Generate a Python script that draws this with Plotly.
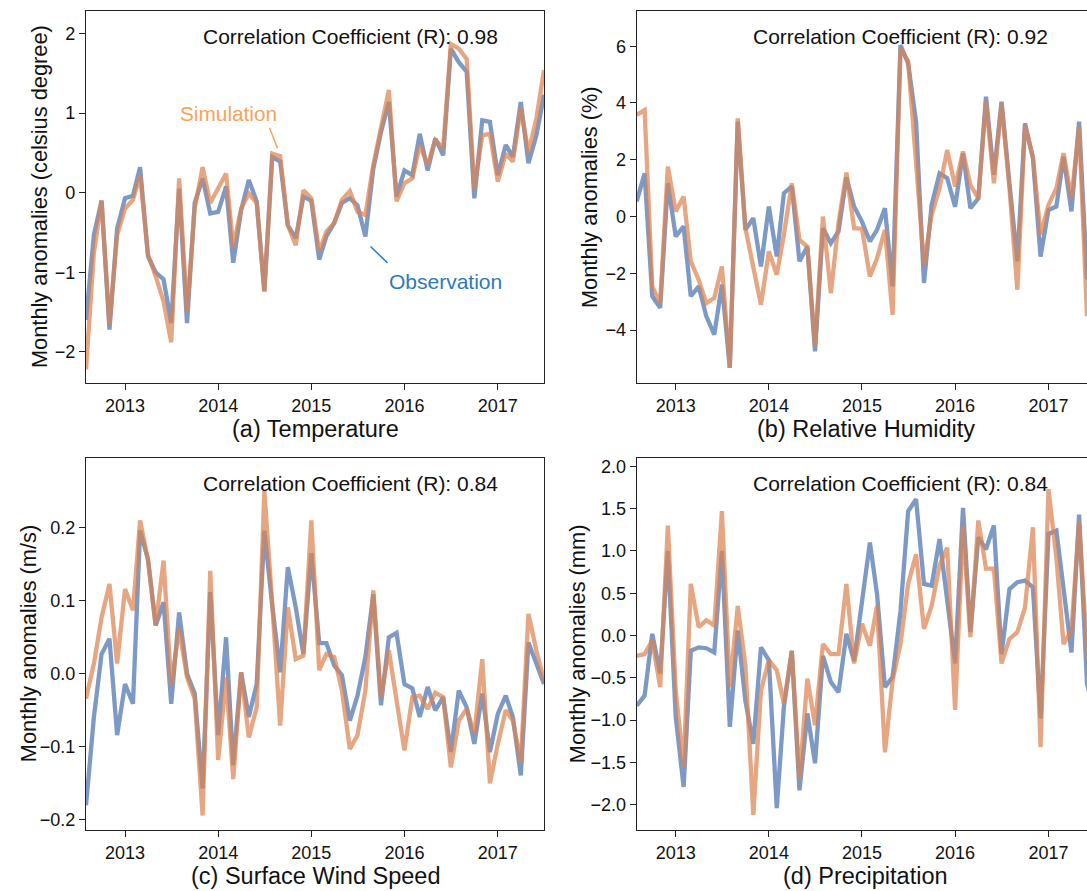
import pandas as pd
import plotly.graph_objects as go

W, H = 1087, 891

months = pd.date_range("2012-08-01", periods=60, freq="MS")
year_ticks = ["2013-01-01", "2014-01-01", "2015-01-01", "2016-01-01", "2017-01-01"]
year_labels = ["2013", "2014", "2015", "2016", "2017"]

temp_obs = [-1.6, -0.53, -0.10, -1.72, -0.45, -0.07, -0.04, 0.32, -0.80, -1.0,
            -1.09, -1.64, 0.05, -1.64, -0.13, 0.18, -0.26, -0.24, 0.08, -0.88,
            -0.22, 0.16, -0.11, -1.24, 0.45, 0.39, -0.41, -0.57, -0.05, -0.10,
            -0.84, -0.55, -0.38, -0.13, -0.07, -0.16, -0.55, 0.30, 0.76, 1.14,
            -0.05, 0.28, 0.22, 0.74, 0.28, 0.68, 0.47, 1.81, 1.64, 1.52,
            -0.07, 0.91, 0.89, 0.22, 0.60, 0.45, 1.14, 0.37, 0.72, 1.23]
temp_sim = [-2.22, -0.75, -0.10, -1.66, -0.53, -0.20, -0.09, 0.22, -0.78, -1.05,
            -1.37, -1.88, 0.18, -1.49, -0.20, 0.32, -0.13, 0.05, 0.24, -0.68,
            -0.20, -0.01, -0.13, -1.24, 0.49, 0.46, -0.41, -0.66, 0.03, -0.07,
            -0.74, -0.49, -0.38, -0.09, 0.02, -0.24, -0.28, 0.35, 0.83, 1.29,
            -0.11, 0.12, 0.18, 0.60, 0.35, 0.66, 0.56, 1.87, 1.81, 1.68,
            0.05, 0.72, 0.74, 0.14, 0.49, 0.39, 1.06, 0.51, 0.93, 1.54]

rh_obs = [0.53, 1.52, -2.81, -3.22, 1.17, -0.70, -0.35, -2.81, -2.46, -3.52,
          -4.16, -2.40, -5.33, 3.34, -0.47, -0.06, -1.76, 0.35, -1.41, 0.82,
          1.06, -1.58, -1.06, -4.75, -0.41, -0.94, -0.53, 1.38, 0.35, -0.18,
          -0.88, -0.47, 0.29, -2.46, 6.04, 5.39, 3.34, -2.34, 0.41, 1.52,
          1.35, 0.35, 2.23, 0.29, 0.64, 4.22, 1.47, 4.04, 1.17, -1.58,
          3.28, 2.05, -1.41, 0.23, 0.35, 2.11, 0.18, 3.34, -2.2, -1.8]
rh_sim = [3.58, 3.75, -2.46, -3.05, 1.76, 0.18, 0.70, -1.58, -2.23, -3.05,
          -2.87, -1.76, -5.33, 3.46, -0.41, -1.70, -3.11, -1.23, -2.05, -0.64,
          1.17, -0.82, -1.06, -4.57, 0.0, -2.70, -0.23, 1.55, -0.41, -0.43,
          -2.11, -1.47, -0.47, -3.46, 5.92, 5.47, 2.0, -1.70, 0.06, 1.0,
          2.34, 1.06, 2.29, 1.11, 0.64, 4.04, 1.17, 3.99, 1.0, -2.58,
          3.22, 2.11, -0.64, 0.41, 1.0, 2.23, 0.64, 3.17, -3.5, -2.9]

wind_obs = [-0.18, -0.059, 0.027, 0.048, -0.084, -0.014, -0.041, 0.196, 0.157, 0.066,
            0.098, -0.041, 0.084, 0.0, -0.027, -0.157, 0.112, -0.084, 0.05, -0.125,
            0.002, -0.059, -0.014, 0.196, 0.093, 0.002, 0.146, 0.091, 0.027, 0.165,
            0.042, 0.042, 0.011, -0.002, -0.064, -0.03, 0.023, 0.109, -0.043, 0.05,
            0.056, -0.014, -0.02, -0.059, -0.018, -0.05, -0.032, -0.107, -0.023, -0.046,
            -0.096, -0.027, -0.107, -0.055, -0.03, -0.059, -0.139, 0.043, 0.014, -0.014]
wind_sim = [-0.034, 0.014, 0.077, 0.123, 0.014, 0.116, 0.087, 0.21, 0.155, 0.066,
            0.155, -0.016, 0.062, -0.005, -0.034, -0.194, 0.141, -0.118, -0.005, -0.144,
            0.002, -0.087, -0.046, 0.25, 0.096, -0.071, 0.091, 0.02, 0.025, 0.21,
            0.005, 0.027, 0.023, -0.023, -0.103, -0.084, -0.023, 0.114, -0.032, 0.032,
            -0.036, -0.105, -0.032, -0.03, -0.048, -0.026, -0.032, -0.128, -0.064, -0.048,
            -0.082, 0.02, -0.15, -0.096, -0.05, -0.064, -0.121, 0.082, 0.032, -0.009]

precip_obs = [-0.83, -0.71, 0.02, -0.45, 1.0, -0.96, -1.79, -0.18, -0.14, -0.15,
              -0.20, 1.0, -1.08, 0.06, -0.77, -1.28, -0.14, -0.29, -2.04, -0.84,
              -0.18, -1.83, -0.92, -1.51, -0.24, -0.55, -0.67, 0.02, -0.30, 0.40,
              1.10, 0.49, -0.61, -0.49, 0.29, 1.47, 1.61, 0.61, 0.59, 1.14,
              0.43, -0.33, 1.51, 0.04, 1.16, 1.02, 1.30, -0.22, 0.55, 0.63,
              0.65, 0.57, -0.98, 1.20, 1.24, 0.53, -0.20, 1.43, -0.57, -0.9]
precip_sim = [-0.24, -0.22, -0.06, -0.61, 1.30, -0.65, -1.55, 0.61, 0.10, 0.18,
              0.12, 1.47, -0.61, 0.35, -0.35, -2.12, -0.65, -0.29, -0.41, -0.81,
              -0.18, -1.69, -0.51, -1.06, -0.10, -0.22, -0.22, 0.61, -0.33, 0.14,
              -0.12, 0.35, -1.38, -0.53, -0.10, 0.61, 0.96, 0.08, 0.35, 0.83,
              1.04, -0.88, 1.30, -0.02, 1.36, 0.79, 0.79, -0.33, -0.04, 0.04,
              0.33, 1.28, -1.32, 1.73, 0.92, -0.10, 0.06, 1.34, -0.18, -0.5]

panels = [
    dict(obs=temp_obs, sim=temp_sim, title="(a) Temperature", r="0.98",
         ylabel="Monthly anomalies (celsius degree)"),
    dict(obs=rh_obs, sim=rh_sim, title="(b) Relative Humidity", r="0.92",
         ylabel="Monthly anomalies (%)"),
    dict(obs=wind_obs, sim=wind_sim, title="(c) Surface Wind Speed", r="0.84",
         ylabel="Monthly anomalies (m/s)"),
    dict(obs=precip_obs, sim=precip_sim, title="(d) Precipitation", r="0.84",
         ylabel="Monthly anomalies (mm)"),
]

# pixel geometry
LEFT_X = (86, 544)
RIGHT_X = (636.7, 1094.7)
TOP_Y = (9.3, 381.7)
BOT_Y = (457.3, 830)
geo = [(LEFT_X, TOP_Y), (RIGHT_X, TOP_Y), (LEFT_X, BOT_Y), (RIGHT_X, BOT_Y)]
ylab_x = [39, 589, 28, 577]

yranges = [[-2.39, 2.28], [-5.86, 7.23], [-0.214, 0.295], [-2.30, 2.095]]
ytickvals = [[-2, -1, 0, 1, 2], [-4, -2, 0, 2, 4, 6],
             [-0.2, -0.1, 0.0, 0.1, 0.2], [-2.0, -1.5, -1.0, -0.5, 0.0, 0.5, 1.0, 1.5, 2.0]]
ytickfmt = ["d", "d", ".1f", ".1f"]

OBS_C = "#4c72b0"
SIM_C = "#dd8452"
FONT = "Liberation Sans, Arial, Helvetica, sans-serif"
AX_C = "#222222"

fig = go.Figure()
layout = dict(width=W, height=H, margin=dict(l=0, r=0, t=0, b=0),
              paper_bgcolor="white", plot_bgcolor="white", showlegend=False,
              font=dict(family=FONT, color="#111111"))
annotations = []
shapes = []


def px_x(x):
    return x / W


def px_y(y):
    return 1 - y / H


for k, p in enumerate(panels):
    (x0, x1), (y0, y1) = geo[k]
    xa = "x" if k == 0 else f"x{k+1}"
    ya = "y" if k == 0 else f"y{k+1}"
    fig.add_trace(go.Scatter(x=months, y=p["obs"], mode="lines", xaxis=xa, yaxis=ya,
                             line=dict(color=OBS_C, width=4.3), opacity=0.72,
                             name="Observation"))
    fig.add_trace(go.Scatter(x=months, y=p["sim"], mode="lines", xaxis=xa, yaxis=ya,
                             line=dict(color=SIM_C, width=4.3), opacity=0.72,
                             name="Simulation"))
    right = k in (1, 3)
    dom_x = [px_x(x0), min(1.0, px_x(x1))]
    xr_end = "2017-06-01" if right else "2017-07-01"
    xkey = "xaxis" if k == 0 else f"xaxis{k+1}"
    ykey = "yaxis" if k == 0 else f"yaxis{k+1}"
    layout[xkey] = dict(domain=dom_x, anchor=ya, range=["2012-08-01", xr_end],
                        tickvals=year_ticks, ticktext=year_labels, showgrid=False,
                        zeroline=False, showline=True, mirror=True, linecolor=AX_C,
                        linewidth=1.2, ticks="outside", ticklen=6, tickwidth=1.2,
                        tickcolor=AX_C, tickfont=dict(size=18, family=FONT, color="#111"))
    layout[ykey] = dict(domain=[px_y(y1), px_y(y0)], anchor=xa, range=yranges[k],
                        tickvals=ytickvals[k], tickformat=ytickfmt[k], showgrid=False,
                        zeroline=False, showline=True, mirror=(not right),
                        linecolor=AX_C, linewidth=1.2, ticks="outside", ticklen=6,
                        tickwidth=1.2, tickcolor=AX_C,
                        tickfont=dict(size=18, family=FONT, color="#111"))
    # correlation text
    annotations.append(dict(x=px_x(x0 + 264), y=px_y(y0 + 25), xref="paper", yref="paper",
                            text=f"Correlation Coefficient (R): {p['r']}", showarrow=False,
                            xanchor="center", yanchor="middle",
                            font=dict(size=21, family=FONT, color="#111")))
    # subplot title
    annotations.append(dict(x=px_x((x0 + x1) / 2), y=px_y(y1 + 46), xref="paper",
                            yref="paper", text=p["title"], showarrow=False,
                            xanchor="center", yanchor="middle",
                            font=dict(size=23.5, family=FONT, color="#111")))
    # y axis title
    annotations.append(dict(x=px_x(ylab_x[k]), y=px_y((y0 + y1) / 2), xref="paper",
                            yref="paper", text=p["ylabel"], showarrow=False,
                            textangle=-90, xanchor="center", yanchor="middle",
                            font=dict(size=21.8, family=FONT, color="#111")))

# series labels in panel (a)
annotations.append(dict(x=px_x(228.5), y=px_y(111.5), xref="paper", yref="paper",
                        text="Simulation", showarrow=False, xanchor="center",
                        yanchor="middle", font=dict(size=20.8, family=FONT, color="#f7a35c")))
annotations.append(dict(x=px_x(445.5), y=px_y(280), xref="paper", yref="paper",
                        text="Observation", showarrow=False, xanchor="center",
                        yanchor="middle", font=dict(size=21, family=FONT, color="#2b7bba")))
shapes.append(dict(type="line", xref="paper", yref="paper",
                   x0=px_x(269.5), y0=px_y(126), x1=px_x(277.5), y1=px_y(146.5),
                   line=dict(color="#f7a35c", width=1.5)))
shapes.append(dict(type="line", xref="paper", yref="paper",
                   x0=px_x(370.5), y0=px_y(245), x1=px_x(387.5), y1=px_y(261.5),
                   line=dict(color="#2b7bba", width=1.5)))

layout["annotations"] = annotations
layout["shapes"] = shapes
fig.update_layout(**layout)

fig.write_html("out.html")
